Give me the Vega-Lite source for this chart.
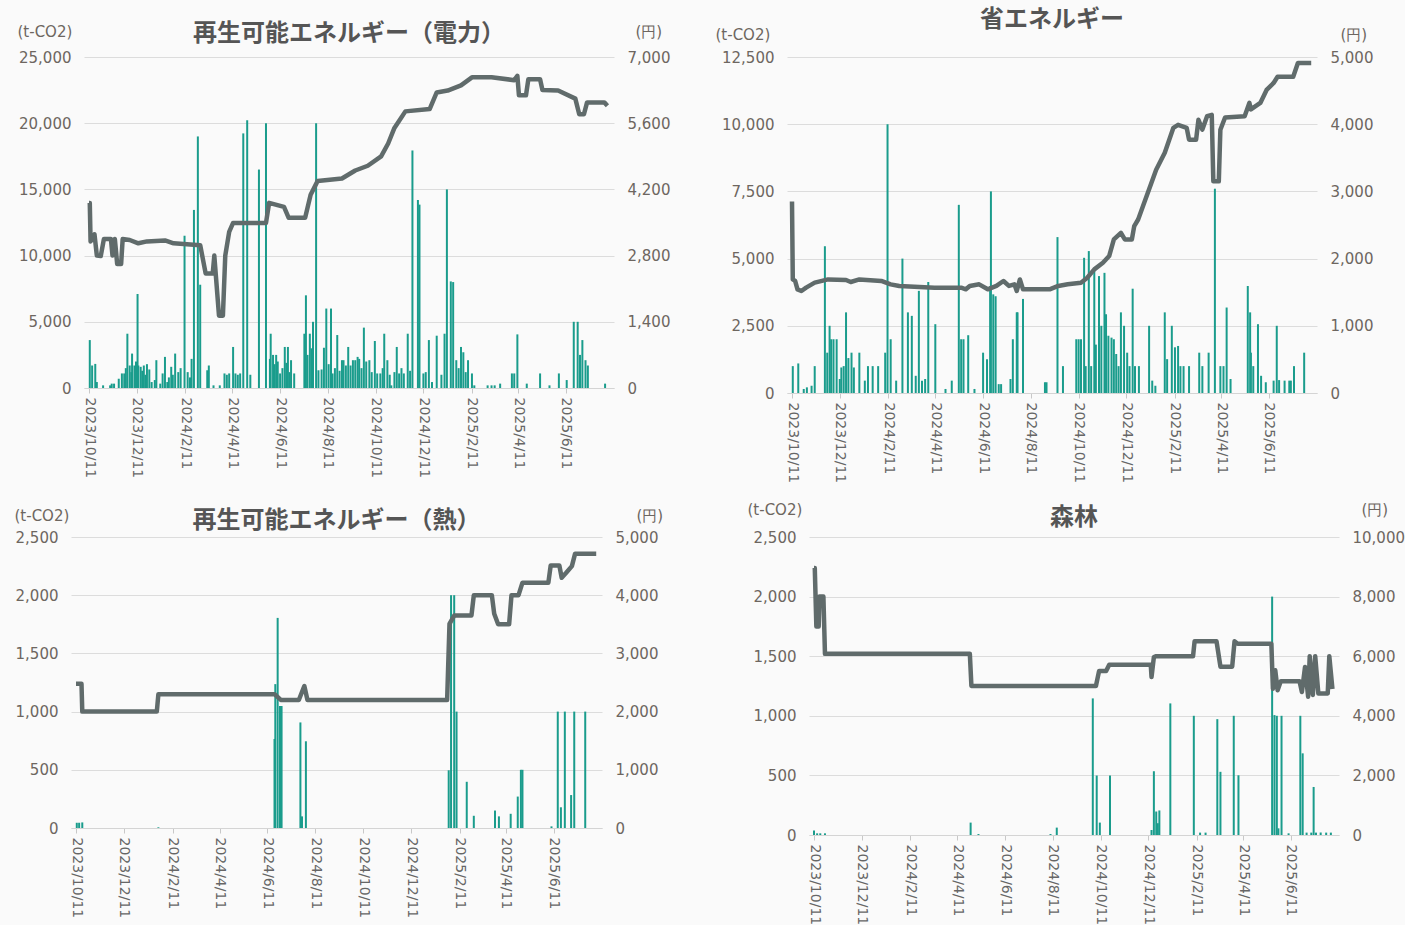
{
"$schema": "https://vega.github.io/schema/vega-lite/v6.json",
"background": "#fafafa",
"padding": {"left": 14, "top": 8, "right": 0, "bottom": 0},
"spacing": 19,
"columns": 1,
"datasets": {
"a_bar": [
{"d":"2023/10/12","v":3620},{"d":"2023/10/15","v":1700},{"d":"2023/10/19","v":1820},{"d":"2023/10/21","v":450},{"d":"2023/10/29","v":200},{"d":"2023/11/7","v":200},{"d":"2023/11/9","v":330},{"d":"2023/11/12","v":330},{"d":"2023/11/18","v":700},{"d":"2023/11/22","v":1100},{"d":"2023/11/25","v":1100},{"d":"2023/11/27","v":1500},{"d":"2023/11/29","v":4100},{"d":"2023/12/2","v":1700},{"d":"2023/12/4","v":1200},{"d":"2023/12/5","v":2600},{"d":"2023/12/8","v":1700},{"d":"2023/12/10","v":2000},{"d":"2023/12/12","v":7100},{"d":"2023/12/13","v":1700},{"d":"2023/12/16","v":1600},{"d":"2023/12/18","v":1300},{"d":"2023/12/20","v":1700},{"d":"2023/12/22","v":1000},{"d":"2023/12/24","v":1800},{"d":"2023/12/27","v":1400},{"d":"2023/12/30","v":450},{"d":"2024/1/3","v":600},{"d":"2024/1/5","v":2100},{"d":"2024/1/10","v":330},{"d":"2024/1/13","v":1100},{"d":"2024/1/16","v":2350},{"d":"2024/1/19","v":450},{"d":"2024/1/21","v":800},{"d":"2024/1/24","v":1600},{"d":"2024/1/26","v":1000},{"d":"2024/1/29","v":2600},{"d":"2024/2/2","v":1200},{"d":"2024/2/5","v":1500},{"d":"2024/2/10","v":11500},{"d":"2024/2/14","v":1200},{"d":"2024/2/17","v":800},{"d":"2024/2/19","v":2200},{"d":"2024/2/22","v":13450},{"d":"2024/2/27","v":19000},{"d":"2024/3/1","v":7800},{"d":"2024/3/10","v":1340},{"d":"2024/3/12","v":1700},{"d":"2024/3/18","v":200},{"d":"2024/3/26","v":200},{"d":"2024/4/1","v":1100},{"d":"2024/4/4","v":1000},{"d":"2024/4/7","v":1100},{"d":"2024/4/12","v":3100},{"d":"2024/4/15","v":1100},{"d":"2024/4/18","v":1000},{"d":"2024/4/21","v":1100},{"d":"2024/4/25","v":19230},{"d":"2024/4/30","v":20220},{"d":"2024/5/4","v":1000},{"d":"2024/5/15","v":16500},{"d":"2024/5/24","v":20000},{"d":"2024/5/29","v":2200},{"d":"2024/5/30","v":4100},{"d":"2024/6/2","v":2500},{"d":"2024/6/4","v":1800},{"d":"2024/6/6","v":2500},{"d":"2024/6/8","v":2000},{"d":"2024/6/11","v":1100},{"d":"2024/6/14","v":1500},{"d":"2024/6/17","v":3100},{"d":"2024/6/19","v":1900},{"d":"2024/6/21","v":3100},{"d":"2024/6/23","v":1200},{"d":"2024/6/25","v":2100},{"d":"2024/6/29","v":1100},{"d":"2024/7/12","v":4100},{"d":"2024/7/14","v":7000},{"d":"2024/7/16","v":2500},{"d":"2024/7/19","v":4100},{"d":"2024/7/21","v":3000},{"d":"2024/7/23","v":5000},{"d":"2024/7/27","v":20000},{"d":"2024/7/30","v":1340},{"d":"2024/8/3","v":1400},{"d":"2024/8/6","v":3040},{"d":"2024/8/9","v":6000},{"d":"2024/8/12","v":1800},{"d":"2024/8/15","v":6000},{"d":"2024/8/17","v":1100},{"d":"2024/8/20","v":1500},{"d":"2024/8/23","v":4000},{"d":"2024/8/26","v":1300},{"d":"2024/8/29","v":2100},{"d":"2024/8/31","v":2100},{"d":"2024/9/3","v":1700},{"d":"2024/9/6","v":3100},{"d":"2024/9/9","v":1700},{"d":"2024/9/12","v":2100},{"d":"2024/9/15","v":2100},{"d":"2024/9/18","v":2350},{"d":"2024/9/20","v":2200},{"d":"2024/9/23","v":1500},{"d":"2024/9/26","v":4560},{"d":"2024/9/29","v":2000},{"d":"2024/10/3","v":2100},{"d":"2024/10/6","v":1200},{"d":"2024/10/10","v":3550},{"d":"2024/10/13","v":1100},{"d":"2024/10/17","v":1100},{"d":"2024/10/20","v":1500},{"d":"2024/10/22","v":4100},{"d":"2024/10/26","v":2100},{"d":"2024/10/29","v":1000},{"d":"2024/10/31","v":200},{"d":"2024/11/4","v":1200},{"d":"2024/11/7","v":3100},{"d":"2024/11/10","v":1100},{"d":"2024/11/13","v":1500},{"d":"2024/11/16","v":1100},{"d":"2024/11/21","v":4100},{"d":"2024/11/24","v":1300},{"d":"2024/11/27","v":17940},{"d":"2024/12/4","v":14200},{"d":"2024/12/6","v":13850},{"d":"2024/12/11","v":1100},{"d":"2024/12/14","v":1200},{"d":"2024/12/18","v":3620},{"d":"2024/12/22","v":450},{"d":"2024/12/28","v":3950},{"d":"2025/1/3","v":1000},{"d":"2025/1/7","v":4100},{"d":"2025/1/10","v":15000},{"d":"2025/1/15","v":8050},{"d":"2025/1/18","v":8000},{"d":"2025/1/22","v":2100},{"d":"2025/1/25","v":1500},{"d":"2025/1/28","v":3100},{"d":"2025/1/31","v":2700},{"d":"2025/2/3","v":1200},{"d":"2025/2/6","v":2100},{"d":"2025/2/11","v":1100},{"d":"2025/2/14","v":200},{"d":"2025/3/3","v":200},{"d":"2025/3/8","v":200},{"d":"2025/3/12","v":200},{"d":"2025/3/19","v":330},{"d":"2025/4/3","v":1100},{"d":"2025/4/6","v":1100},{"d":"2025/4/10","v":4050},{"d":"2025/4/22","v":330},{"d":"2025/5/9","v":1100},{"d":"2025/5/21","v":200},{"d":"2025/6/2","v":1100},{"d":"2025/6/12","v":600},{"d":"2025/6/21","v":5000},{"d":"2025/6/26","v":5000},{"d":"2025/6/29","v":2500},{"d":"2025/7/2","v":3620},{"d":"2025/7/6","v":2100},{"d":"2025/7/9","v":1700},{"d":"2025/7/31","v":330}
],
"a_line": [
{"d":"2023/10/11","p":3915},{"d":"2023/10/12","p":3915},{"d":"2023/10/13","p":3100},{"d":"2023/10/18","p":3250},{"d":"2023/10/21","p":2800},{"d":"2023/10/26","p":2790},{"d":"2023/10/30","p":3150},{"d":"2023/11/8","p":3150},{"d":"2023/11/10","p":2800},{"d":"2023/11/13","p":3150},{"d":"2023/11/16","p":2620},{"d":"2023/11/21","p":2620},{"d":"2023/11/23","p":3150},{"d":"2023/12/2","p":3130},{"d":"2023/12/13","p":3060},{"d":"2023/12/24","p":3100},{"d":"2024/1/16","p":3120},{"d":"2024/1/27","p":3060},{"d":"2024/3/1","p":3020},{"d":"2024/3/8","p":2420},{"d":"2024/3/17","p":2420},{"d":"2024/3/19","p":2800},{"d":"2024/3/25","p":1530},{"d":"2024/3/30","p":1530},{"d":"2024/4/2","p":2800},{"d":"2024/4/7","p":3300},{"d":"2024/4/12","p":3490},{"d":"2024/5/24","p":3490},{"d":"2024/5/28","p":3915},{"d":"2024/6/16","p":3830},{"d":"2024/6/22","p":3600},{"d":"2024/7/13","p":3600},{"d":"2024/7/20","p":4085},{"d":"2024/7/29","p":4380},{"d":"2024/8/29","p":4430},{"d":"2024/9/15","p":4600},{"d":"2024/10/1","p":4700},{"d":"2024/10/18","p":4900},{"d":"2024/10/27","p":5170},{"d":"2024/11/4","p":5500},{"d":"2024/11/18","p":5850},{"d":"2024/12/19","p":5900},{"d":"2024/12/28","p":6250},{"d":"2025/1/11","p":6290},{"d":"2025/1/28","p":6400},{"d":"2025/2/11","p":6570},{"d":"2025/3/8","p":6570},{"d":"2025/4/6","p":6510},{"d":"2025/4/10","p":6600},{"d":"2025/4/12","p":6190},{"d":"2025/4/21","p":6190},{"d":"2025/4/24","p":6530},{"d":"2025/5/9","p":6530},{"d":"2025/5/12","p":6300},{"d":"2025/6/1","p":6290},{"d":"2025/6/23","p":6120},{"d":"2025/6/28","p":5790},{"d":"2025/7/4","p":5790},{"d":"2025/7/8","p":6040},{"d":"2025/7/30","p":6040},{"d":"2025/8/3","p":5970}
],
"b_bar": [
{"d":"2023/10/12","v":1000},{"d":"2023/10/19","v":1100},{"d":"2023/10/26","v":150},{"d":"2023/10/30","v":210},{"d":"2023/11/5","v":270},{"d":"2023/11/9","v":1000},{"d":"2023/11/22","v":5460},{"d":"2023/11/25","v":1500},{"d":"2023/11/28","v":2500},{"d":"2023/11/30","v":2000},{"d":"2023/12/3","v":2000},{"d":"2023/12/7","v":2000},{"d":"2023/12/11","v":520},{"d":"2023/12/13","v":950},{"d":"2023/12/16","v":1000},{"d":"2023/12/19","v":3000},{"d":"2023/12/22","v":1300},{"d":"2023/12/26","v":1500},{"d":"2023/12/29","v":950},{"d":"2024/1/5","v":1500},{"d":"2024/1/12","v":460},{"d":"2024/1/16","v":1000},{"d":"2024/1/22","v":1000},{"d":"2024/1/29","v":1000},{"d":"2024/2/7","v":1500},{"d":"2024/2/10","v":10000},{"d":"2024/2/14","v":2000},{"d":"2024/2/21","v":460},{"d":"2024/2/29","v":5000},{"d":"2024/3/7","v":3000},{"d":"2024/3/12","v":2870},{"d":"2024/3/17","v":640},{"d":"2024/3/21","v":3800},{"d":"2024/3/25","v":460},{"d":"2024/3/29","v":520},{"d":"2024/4/2","v":4130},{"d":"2024/4/11","v":2560},{"d":"2024/4/24","v":150},{"d":"2024/5/2","v":460},{"d":"2024/5/11","v":7000},{"d":"2024/5/14","v":2000},{"d":"2024/5/17","v":2000},{"d":"2024/5/23","v":2150},{"d":"2024/5/31","v":150},{"d":"2024/6/11","v":1500},{"d":"2024/6/16","v":1260},{"d":"2024/6/20","v":3980},{"d":"2024/6/21","v":7500},{"d":"2024/6/24","v":3670},{"d":"2024/6/27","v":3600},{"d":"2024/7/1","v":330},{"d":"2024/7/4","v":330},{"d":"2024/7/16","v":520},{"d":"2024/7/19","v":2000},{"d":"2024/7/24","v":3000},{"d":"2024/7/25","v":3000},{"d":"2024/8/1","v":3500},{"d":"2024/8/29","v":400},{"d":"2024/8/31","v":400},{"d":"2024/9/14","v":5800},{"d":"2024/9/21","v":1000},{"d":"2024/10/8","v":2000},{"d":"2024/10/11","v":2000},{"d":"2024/10/14","v":2000},{"d":"2024/10/18","v":5030},{"d":"2024/10/20","v":1000},{"d":"2024/10/24","v":5280},{"d":"2024/10/27","v":1000},{"d":"2024/10/31","v":4600},{"d":"2024/11/2","v":1800},{"d":"2024/11/6","v":4350},{"d":"2024/11/9","v":2500},{"d":"2024/11/13","v":4470},{"d":"2024/11/15","v":2930},{"d":"2024/11/18","v":2130},{"d":"2024/11/22","v":2060},{"d":"2024/11/25","v":2000},{"d":"2024/11/28","v":1450},{"d":"2024/12/1","v":1000},{"d":"2024/12/4","v":3000},{"d":"2024/12/8","v":2500},{"d":"2024/12/12","v":1500},{"d":"2024/12/15","v":1000},{"d":"2024/12/19","v":3880},{"d":"2024/12/22","v":1000},{"d":"2024/12/27","v":1000},{"d":"2025/1/9","v":2500},{"d":"2025/1/13","v":460},{"d":"2025/1/17","v":270},{"d":"2025/1/29","v":3000},{"d":"2025/2/1","v":1260},{"d":"2025/2/7","v":2500},{"d":"2025/2/11","v":1700},{"d":"2025/2/15","v":1750},{"d":"2025/2/18","v":1000},{"d":"2025/2/22","v":1000},{"d":"2025/3/1","v":1000},{"d":"2025/3/14","v":1500},{"d":"2025/3/18","v":1000},{"d":"2025/3/26","v":1500},{"d":"2025/4/3","v":7600},{"d":"2025/4/10","v":1000},{"d":"2025/4/14","v":1000},{"d":"2025/4/18","v":3180},{"d":"2025/4/23","v":520},{"d":"2025/5/15","v":3980},{"d":"2025/5/18","v":3000},{"d":"2025/5/19","v":1500},{"d":"2025/5/22","v":1000},{"d":"2025/5/28","v":2560},{"d":"2025/6/1","v":640},{"d":"2025/6/7","v":400},{"d":"2025/6/17","v":460},{"d":"2025/6/21","v":2500},{"d":"2025/6/24","v":480},{"d":"2025/7/1","v":460},{"d":"2025/7/7","v":460},{"d":"2025/7/9","v":460},{"d":"2025/7/13","v":1000},{"d":"2025/7/26","v":1500}
],
"b_line": [
{"d":"2023/10/11","p":2850},{"d":"2023/10/12","p":1690},{"d":"2023/10/15","p":1667},{"d":"2023/10/18","p":1543},{"d":"2023/10/23","p":1518},{"d":"2023/10/29","p":1568},{"d":"2023/11/9","p":1642},{"d":"2023/11/26","p":1690},{"d":"2023/12/19","p":1682},{"d":"2023/12/25","p":1652},{"d":"2024/1/5","p":1690},{"d":"2024/2/2","p":1667},{"d":"2024/2/14","p":1617},{"d":"2024/2/25","p":1593},{"d":"2024/4/10","p":1568},{"d":"2024/5/14","p":1568},{"d":"2024/5/20","p":1543},{"d":"2024/5/25","p":1593},{"d":"2024/6/6","p":1617},{"d":"2024/6/17","p":1543},{"d":"2024/6/28","p":1593},{"d":"2024/7/7","p":1667},{"d":"2024/7/14","p":1593},{"d":"2024/7/21","p":1617},{"d":"2024/7/24","p":1518},{"d":"2024/7/28","p":1690},{"d":"2024/8/1","p":1543},{"d":"2024/9/4","p":1543},{"d":"2024/9/15","p":1593},{"d":"2024/9/27","p":1617},{"d":"2024/10/14","p":1642},{"d":"2024/10/22","p":1716},{"d":"2024/10/31","p":1840},{"d":"2024/11/11","p":1939},{"d":"2024/11/19","p":2038},{"d":"2024/11/25","p":2285},{"d":"2024/12/4","p":2384},{"d":"2024/12/9","p":2285},{"d":"2024/12/18","p":2285},{"d":"2024/12/21","p":2483},{"d":"2024/12/26","p":2582},{"d":"2025/1/1","p":2775},{"d":"2025/1/12","p":3130},{"d":"2025/1/18","p":3323},{"d":"2025/1/29","p":3575},{"d":"2025/2/9","p":3946},{"d":"2025/2/15","p":3990},{"d":"2025/2/26","p":3946},{"d":"2025/3/1","p":3770},{"d":"2025/3/10","p":3770},{"d":"2025/3/13","p":4065},{"d":"2025/3/18","p":3920},{"d":"2025/3/24","p":4120},{"d":"2025/3/30","p":4140},{"d":"2025/4/1","p":3150},{"d":"2025/4/8","p":3150},{"d":"2025/4/10","p":3917},{"d":"2025/4/16","p":4100},{"d":"2025/5/11","p":4120},{"d":"2025/5/17","p":4317},{"d":"2025/5/19","p":4220},{"d":"2025/5/31","p":4317},{"d":"2025/6/8","p":4510},{"d":"2025/6/17","p":4614},{"d":"2025/6/22","p":4705},{"d":"2025/7/12","p":4705},{"d":"2025/7/18","p":4911},{"d":"2025/8/4","p":4911}
],
"c_bar": [
{"d":"2023/10/12","v":45},{"d":"2023/10/15","v":45},{"d":"2023/10/19","v":48},{"d":"2024/1/24","v":6},{"d":"2024/6/20","v":765},{"d":"2024/6/21","v":1236},{"d":"2024/6/24","v":1805},{"d":"2024/6/27","v":1048},{"d":"2024/6/29","v":1048},{"d":"2024/7/23","v":907},{"d":"2024/7/25","v":100},{"d":"2024/7/30","v":745},{"d":"2025/1/28","v":496},{"d":"2025/1/31","v":2000},{"d":"2025/2/4","v":2000},{"d":"2025/2/7","v":1000},{"d":"2025/2/20","v":397},{"d":"2025/3/1","v":105},{"d":"2025/3/28","v":150},{"d":"2025/4/2","v":100},{"d":"2025/4/17","v":122},{"d":"2025/4/26","v":270},{"d":"2025/4/30","v":500},{"d":"2025/5/2","v":500},{"d":"2025/6/8","v":14},{"d":"2025/6/16","v":1000},{"d":"2025/6/20","v":178},{"d":"2025/6/25","v":1000},{"d":"2025/7/3","v":283},{"d":"2025/7/7","v":1000},{"d":"2025/7/21","v":1000}
],
"c_line": [
{"d":"2023/10/11","p":2478},{"d":"2023/10/18","p":2478},{"d":"2023/10/19","p":2000},{"d":"2024/1/22","p":2000},{"d":"2024/1/24","p":2300},{"d":"2024/6/20","p":2300},{"d":"2024/6/28","p":2200},{"d":"2024/7/21","p":2200},{"d":"2024/7/28","p":2440},{"d":"2024/8/1","p":2200},{"d":"2025/1/26","p":2200},{"d":"2025/1/29","p":3508},{"d":"2025/2/4","p":3650},{"d":"2025/2/26","p":3650},{"d":"2025/3/1","p":4000},{"d":"2025/3/24","p":4000},{"d":"2025/3/27","p":3680},{"d":"2025/4/1","p":3500},{"d":"2025/4/15","p":3500},{"d":"2025/4/18","p":4000},{"d":"2025/4/27","p":4000},{"d":"2025/5/2","p":4215},{"d":"2025/6/4","p":4215},{"d":"2025/6/7","p":4512},{"d":"2025/6/18","p":4512},{"d":"2025/6/21","p":4300},{"d":"2025/6/27","p":4390},{"d":"2025/7/4","p":4500},{"d":"2025/7/8","p":4711},{"d":"2025/8/4","p":4711}
],
"d_bar": [
{"d":"2023/10/11","v":37},{"d":"2023/10/15","v":14},{"d":"2023/10/19","v":14},{"d":"2023/10/25","v":14},{"d":"2024/4/28","v":104},{"d":"2024/5/8","v":8},{"d":"2024/8/8","v":8},{"d":"2024/8/16","v":62},{"d":"2024/10/1","v":1146},{"d":"2024/10/6","v":499},{"d":"2024/10/10","v":104},{"d":"2024/10/23","v":499},{"d":"2024/12/15","v":42},{"d":"2024/12/18","v":535},{"d":"2024/12/21","v":197},{"d":"2024/12/23","v":99},{"d":"2024/12/25","v":206},{"d":"2025/1/8","v":1104},{"d":"2025/2/7","v":1000},{"d":"2025/2/15","v":20},{"d":"2025/2/22","v":20},{"d":"2025/3/9","v":972},{"d":"2025/3/13","v":530},{"d":"2025/3/30","v":1000},{"d":"2025/4/5","v":501},{"d":"2025/5/18","v":2000},{"d":"2025/5/21","v":1006},{"d":"2025/5/24","v":1000},{"d":"2025/5/26","v":56},{"d":"2025/5/30","v":1000},{"d":"2025/6/8","v":14},{"d":"2025/6/23","v":1000},{"d":"2025/6/26","v":685},{"d":"2025/7/1","v":20},{"d":"2025/7/7","v":20},{"d":"2025/7/10","v":403},{"d":"2025/7/13","v":20},{"d":"2025/7/19","v":20},{"d":"2025/7/26","v":20},{"d":"2025/8/1","v":20}
],
"d_line": [
{"d":"2023/10/11","p":8960},{"d":"2023/10/12","p":8960},{"d":"2023/10/14","p":7000},{"d":"2023/10/17","p":7000},{"d":"2023/10/18","p":8000},{"d":"2023/10/23","p":8000},{"d":"2023/10/25","p":6080},{"d":"2024/4/27","p":6080},{"d":"2024/4/29","p":5000},{"d":"2024/10/5","p":5000},{"d":"2024/10/9","p":5500},{"d":"2024/10/18","p":5500},{"d":"2024/10/22","p":5715},{"d":"2024/12/14","p":5715},{"d":"2024/12/15","p":5300},{"d":"2024/12/18","p":5970},{"d":"2024/12/21","p":6000},{"d":"2025/2/6","p":6000},{"d":"2025/2/8","p":6500},{"d":"2025/3/8","p":6500},{"d":"2025/3/13","p":5650},{"d":"2025/3/28","p":5650},{"d":"2025/3/31","p":6500},{"d":"2025/4/4","p":6420},{"d":"2025/5/17","p":6420},{"d":"2025/5/19","p":4910},{"d":"2025/5/22","p":5530},{"d":"2025/5/25","p":4860},{"d":"2025/5/29","p":5160},{"d":"2025/6/22","p":5160},{"d":"2025/6/25","p":4800},{"d":"2025/6/29","p":5640},{"d":"2025/7/3","p":4640},{"d":"2025/7/5","p":6000},{"d":"2025/7/9","p":4700},{"d":"2025/7/12","p":6000},{"d":"2025/7/16","p":4750},{"d":"2025/7/28","p":4750},{"d":"2025/7/30","p":6000},{"d":"2025/8/3","p":4900}
]
},
"concat": [
{"hconcat": [
{"hconcat": [
{"width": 13, "height": 1, "data": {"values": [{}]}, "mark": {"type": "point", "opacity": 0}},
{"width": 530, "height": 331,
 "title": {"text": "再生可能エネルギー（電力）", "offset": -22},
 "layer": [
  {"data": {"name": "a_bar"}, "mark": {"type": "bar", "color": "#1a9c8c", "size": 2},
   "encoding": {
    "x": {"field": "d", "type": "temporal", "title": null, "scale": {"domain": [{"year":2023,"month":10,"date":11},{"year":2025,"month":8,"date":5}]},
          "axis": {"values": [{"year":2023,"month":10,"date":11},{"year":2023,"month":12,"date":11},{"year":2024,"month":2,"date":11},{"year":2024,"month":4,"date":11},{"year":2024,"month":6,"date":11},{"year":2024,"month":8,"date":11},{"year":2024,"month":10,"date":11},{"year":2024,"month":12,"date":11},{"year":2025,"month":2,"date":11},{"year":2025,"month":4,"date":11},{"year":2025,"month":6,"date":11}], "format": "%Y/%-m/%-d"}},
    "y": {"field": "v", "type": "quantitative", "scale": {"domain": [0, 25000], "nice": false},
          "axis": {"values": [0,5000,10000,15000,20000,25000], "format": ",d", "title": "(t-CO2)", "titleX": -67, "titleY": -26}}}},
  {"data": {"name": "a_line"}, "mark": {"type": "line", "color": "#606b6b", "strokeWidth": 4.5, "strokeJoin": "round"},
   "encoding": {
    "x": {"field": "d", "type": "temporal", "title": null, "scale": {"domain": [{"year":2023,"month":10,"date":11},{"year":2025,"month":8,"date":5}]}},
    "y": {"field": "p", "type": "quantitative", "scale": {"domain": [0, 7000], "nice": false},
          "axis": {"orient": "right", "grid": false, "values": [0,1400,2800,4200,5600,7000], "format": ",d", "title": "(円)", "titleX": 21, "titleY": -26}}}}
 ],
 "resolve": {"scale": {"y": "independent"}}}
], "spacing": 0, "bounds": "flush"},
{"width": 530, "height": 336,
 "title": {"text": "省エネルギー", "offset": -5},
 "layer": [
  {"data": {"name": "b_bar"}, "mark": {"type": "bar", "color": "#1a9c8c", "size": 2},
   "encoding": {
    "x": {"field": "d", "type": "temporal", "title": null, "scale": {"domain": [{"year":2023,"month":10,"date":11},{"year":2025,"month":8,"date":5}]},
          "axis": {"values": [{"year":2023,"month":10,"date":11},{"year":2023,"month":12,"date":11},{"year":2024,"month":2,"date":11},{"year":2024,"month":4,"date":11},{"year":2024,"month":6,"date":11},{"year":2024,"month":8,"date":11},{"year":2024,"month":10,"date":11},{"year":2024,"month":12,"date":11},{"year":2025,"month":2,"date":11},{"year":2025,"month":4,"date":11},{"year":2025,"month":6,"date":11}], "format": "%Y/%-m/%-d"}},
    "y": {"field": "v", "type": "quantitative", "scale": {"domain": [0, 12500], "nice": false},
          "axis": {"values": [0,2500,5000,7500,10000,12500], "format": ",d", "title": "(t-CO2)", "titleX": -72, "titleY": -23}}}},
  {"data": {"name": "b_line"}, "mark": {"type": "line", "color": "#606b6b", "strokeWidth": 4.5, "strokeJoin": "round"},
   "encoding": {
    "x": {"field": "d", "type": "temporal", "title": null, "scale": {"domain": [{"year":2023,"month":10,"date":11},{"year":2025,"month":8,"date":5}]}},
    "y": {"field": "p", "type": "quantitative", "scale": {"domain": [0, 5000], "nice": false},
          "axis": {"orient": "right", "grid": false, "values": [0,1000,2000,3000,4000,5000], "format": ",d", "title": "(円)", "titleX": 23, "titleY": -23}}}}
 ],
 "resolve": {"scale": {"y": "independent"}}}
], "spacing": 45, "bounds": "full"},
{"hconcat": [
{"width": 531, "height": 291,
 "title": {"text": "再生可能エネルギー（熱）", "offset": -25},
 "layer": [
  {"data": {"name": "c_bar"}, "mark": {"type": "bar", "color": "#1a9c8c", "size": 2},
   "encoding": {
    "x": {"field": "d", "type": "temporal", "title": null, "scale": {"domain": [{"year":2023,"month":10,"date":11},{"year":2025,"month":8,"date":5}]},
          "axis": {"values": [{"year":2023,"month":10,"date":11},{"year":2023,"month":12,"date":11},{"year":2024,"month":2,"date":11},{"year":2024,"month":4,"date":11},{"year":2024,"month":6,"date":11},{"year":2024,"month":8,"date":11},{"year":2024,"month":10,"date":11},{"year":2024,"month":12,"date":11},{"year":2025,"month":2,"date":11},{"year":2025,"month":4,"date":11},{"year":2025,"month":6,"date":11}], "format": "%Y/%-m/%-d"}},
    "y": {"field": "v", "type": "quantitative", "scale": {"domain": [0, 2500], "nice": false},
          "axis": {"values": [0,500,1000,1500,2000,2500], "format": ",d", "title": "(t-CO2)", "titleX": -57, "titleY": -22}}}},
  {"data": {"name": "c_line"}, "mark": {"type": "line", "color": "#606b6b", "strokeWidth": 4.5, "strokeJoin": "round"},
   "encoding": {
    "x": {"field": "d", "type": "temporal", "title": null, "scale": {"domain": [{"year":2023,"month":10,"date":11},{"year":2025,"month":8,"date":5}]}},
    "y": {"field": "p", "type": "quantitative", "scale": {"domain": [0, 5000], "nice": false},
          "axis": {"orient": "right", "grid": false, "values": [0,1000,2000,3000,4000,5000], "format": ",d", "title": "(円)", "titleX": 34, "titleY": -22}}}}
 ],
 "resolve": {"scale": {"y": "independent"}}},
{"width": 530, "height": 298,
 "title": {"text": "森林", "offset": -28},
 "layer": [
  {"data": {"name": "d_bar"}, "mark": {"type": "bar", "color": "#1a9c8c", "size": 2},
   "encoding": {
    "x": {"field": "d", "type": "temporal", "title": null, "scale": {"domain": [{"year":2023,"month":10,"date":11},{"year":2025,"month":8,"date":5}]},
          "axis": {"values": [{"year":2023,"month":10,"date":11},{"year":2023,"month":12,"date":11},{"year":2024,"month":2,"date":11},{"year":2024,"month":4,"date":11},{"year":2024,"month":6,"date":11},{"year":2024,"month":8,"date":11},{"year":2024,"month":10,"date":11},{"year":2024,"month":12,"date":11},{"year":2025,"month":2,"date":11},{"year":2025,"month":4,"date":11},{"year":2025,"month":6,"date":11}], "format": "%Y/%-m/%-d"}},
    "y": {"field": "v", "type": "quantitative", "scale": {"domain": [0, 2500], "nice": false},
          "axis": {"values": [0,500,1000,1500,2000,2500], "format": ",d", "title": "(t-CO2)", "titleX": -62, "titleY": -28}}}},
  {"data": {"name": "d_line"}, "mark": {"type": "line", "color": "#606b6b", "strokeWidth": 4.5, "strokeJoin": "round"},
   "encoding": {
    "x": {"field": "d", "type": "temporal", "title": null, "scale": {"domain": [{"year":2023,"month":10,"date":11},{"year":2025,"month":8,"date":5}]}},
    "y": {"field": "p", "type": "quantitative", "scale": {"domain": [0, 10000], "nice": false},
          "axis": {"orient": "right", "grid": false, "values": [0,2000,4000,6000,8000,10000], "format": ",d", "title": "(円)", "titleX": 22, "titleY": -28}}}}
 ],
 "resolve": {"scale": {"y": "independent"}}}
], "spacing": 207, "bounds": "flush"}
],
"config": {
 "view": {"stroke": null},
 "font": "DejaVu Sans",
 "title": {"font": "Noto Sans CJK JP", "fontSize": 24, "fontWeight": "bold", "color": "#555555", "anchor": "middle"},
 "axis": {"labelFont": "DejaVu Sans", "labelColor": "#6d6660", "titleFont": "DejaVu Sans", "titleColor": "#6d6660", "titleFontWeight": "normal", "titleFontSize": 15, "gridColor": "#dcdcdc"},
 "axisY": {"labelFontSize": 15, "domain": false, "ticks": false, "labelPadding": 13, "titleAngle": 0, "titleAlign": "left", "titleBaseline": "middle"},
 "axisX": {"labelFontSize": 14, "labelAngle": 90, "labelAlign": "left", "labelBaseline": "middle", "labelPadding": 4, "grid": false, "ticks": true, "tickSize": 5, "tickColor": "#c8c8c8", "domain": true, "domainColor": "#d4d4d4", "labelColor": "#666666"}
}
}
